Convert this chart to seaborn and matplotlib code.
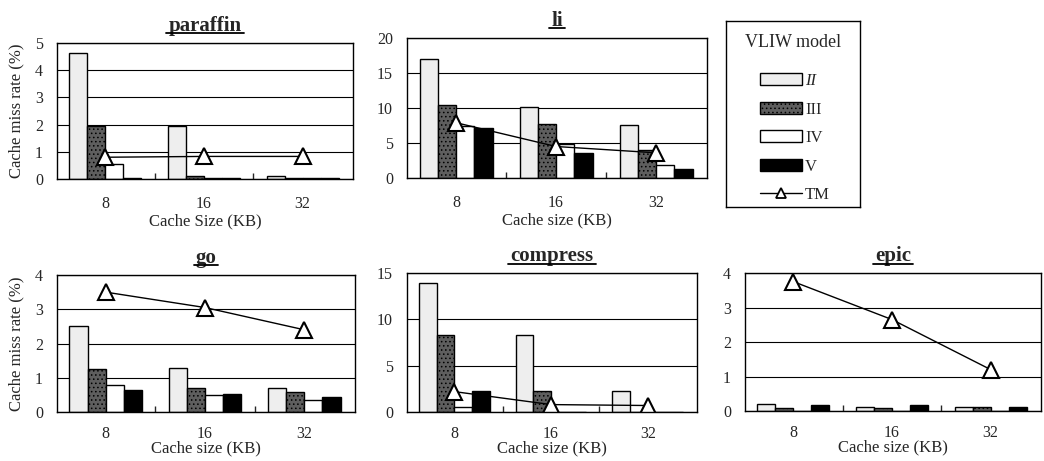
import numpy as np
import pandas as pd
import matplotlib
matplotlib.use("Agg")
import matplotlib.pyplot as plt
from matplotlib.patches import Patch
from matplotlib.lines import Line2D
import seaborn as sns

sizes = ["8", "16", "32"]
models = ["II", "III", "IV", "V"]

paraffin_II = [4.65, 1.95, 0.12]
paraffin_III = [1.95, 0.10, 0.03]
paraffin_IV = [0.55, 0.05, 0.03]
paraffin_V = [0.05, 0.05, 0.04]
paraffin_TM = [0.80, 0.83, 0.83]

li_II = [17.0, 10.2, 7.6]
li_III = [10.5, 7.7, 4.0]
li_IV = [7.4, 4.9, 1.8]
li_V = [7.2, 3.6, 1.3]
li_TM = [7.9, 4.5, 3.6]

go_II = [2.52, 1.29, 0.70]
go_III = [1.27, 0.70, 0.57]
go_IV = [0.78, 0.49, 0.34]
go_V = [0.65, 0.53, 0.44]
go_TM = [3.50, 3.05, 2.40]

compress_II = [13.9, 8.3, 2.3]
compress_III = [8.3, 2.3, 0.05]
compress_IV = [0.5, 0.05, 0.05]
compress_V = [2.3, 0.05, 0.05]
compress_TM = [2.2, 0.8, 0.7]

epic_II = [0.19, 0.12, 0.11]
epic_III = [0.10, 0.10, 0.11]
epic_IV = [0.01, 0.01, 0.01]
epic_V = [0.16, 0.17, 0.11]
epic_TM = [3.75, 2.65, 1.20]

sns.set_style("white")
plt.rcParams["font.family"] = ["Liberation Serif", "DejaVu Serif"]
plt.rcParams["hatch.linewidth"] = 0.6

W, H = 1044, 461
fig = plt.figure(figsize=(W / 100, H / 100), dpi=100)


def rect(x0, y0, x1, y1):
    return [x0 / W, 1 - y1 / H, (x1 - x0) / W, (y1 - y0) / H]


bar_colors = {"II": "#eeeeee", "III": "#5e5e5e", "IV": "#ffffff", "V": "#000000"}
bar_hatch = {"II": None, "III": "....", "IV": None, "V": None}

panels = [
    ("paraffin", (57, 43, 353, 179), [paraffin_II, paraffin_III, paraffin_IV, paraffin_V], paraffin_TM, 5, 1, "Cache Size (KB)", True),
    ("li", (407, 38, 707, 178), [li_II, li_III, li_IV, li_V], li_TM, 20, 5, "Cache size (KB)", False),
    ("go", (57, 275, 355, 412), [go_II, go_III, go_IV, go_V], go_TM, 4, 1, "Cache size (KB)", True),
    ("compress", (407, 273, 697, 412), [compress_II, compress_III, compress_IV, compress_V], compress_TM, 15, 5, "Cache size (KB)", False),
    ("epic", (745, 273, 1041, 411), [epic_II, epic_III, epic_IV, epic_V], epic_TM, 4, 1, "Cache size (KB)", False),
]

axes = []
for name, r, series, tm, ymax, step, xlab, ylab in panels:
    ax = fig.add_axes(rect(*r))
    df = pd.DataFrame({m: v for m, v in zip(models, series)})
    df["size"] = sizes
    long = df.melt(id_vars="size", var_name="model", value_name="rate")
    sns.barplot(data=long, x="size", y="rate", hue="model", order=sizes,
                hue_order=models, palette=bar_colors, edgecolor="black",
                linewidth=1, width=0.73, saturation=1, legend=False, ax=ax)
    for cont, m in zip(ax.containers, models):
        for b in cont:
            if bar_hatch[m]:
                b.set_hatch(bar_hatch[m])
    sns.pointplot(x=sizes, y=tm, ax=ax, color="black", markers="^",
                  linewidth=1, markersize=11, markerfacecolor="white",
                  markeredgecolor="black", markeredgewidth=1.5, errorbar=None)
    ax.set_xlim(-0.49, 2.51)
    ax.set_ylim(0, ymax)
    ax.set_yticks(np.arange(0, ymax + 0.01, step))
    ax.yaxis.grid(True, color="black", linewidth=0.8)
    ax.set_axisbelow(True)
    for s in ax.spines.values():
        s.set_color("black")
        s.set_linewidth(1)
    ax.set_xticks([0.5, 1.5], minor=True)
    ax.tick_params(axis="x", which="minor", direction="in", length=4, width=1, bottom=True)
    ax.tick_params(axis="both", which="major", length=0, labelsize=11.5, pad=10)
    bottom_row = r[1] > 200
    ax.tick_params(axis="x", which="major", pad=10 if bottom_row else 12)
    ax.set_xlabel(xlab, fontsize=12, labelpad=-1 if bottom_row else 1)
    ax.set_ylabel("Cache miss rate (%)" if ylab else "", fontsize=12, labelpad=8)
    ax.set_title(name, fontsize=15, fontweight="bold", pad=9)
    axes.append(ax)

# legend box: framed empty axes holding the title and a frameless legend
lax = fig.add_axes(rect(726, 21, 860, 207))
lax.set_xticks([])
lax.set_yticks([])
for s in lax.spines.values():
    s.set_color("black")
    s.set_linewidth(1)
lax.text(0.5, 1 - 21 / 186, "VLIW model", transform=lax.transAxes,
         ha="center", va="center", fontsize=13)

handles = [Patch(facecolor=bar_colors[m], edgecolor="black", hatch=bar_hatch[m], linewidth=1) for m in models]
handles.append(Line2D([], [], color="black", linewidth=1, marker="^", markersize=7,
                      markerfacecolor="white", markeredgecolor="black", markeredgewidth=1.3))
leg = lax.legend(handles, models + ["TM"], loc="upper left",
                 bbox_to_anchor=((760 - 726) / 134, 1 - (73 - 21) / 186), borderaxespad=0,
                 fontsize=12, frameon=False, borderpad=0,
                 handlelength=2.5, handleheight=0.7, labelspacing=0.75, handletextpad=0.2)
leg.get_texts()[0].set_fontstyle("italic")

# underline the titles
fig.canvas.draw()
renderer = fig.canvas.get_renderer()
for ax in axes:
    bb = ax.title.get_window_extent(renderer)
    fig.add_artist(Line2D([(bb.x0 - 2) / W, (bb.x1 + 2) / W], [(bb.y0 + 2) / H, (bb.y0 + 2) / H],
                          color="black", linewidth=1.3))

fig.savefig("out.png", dpi=100)
